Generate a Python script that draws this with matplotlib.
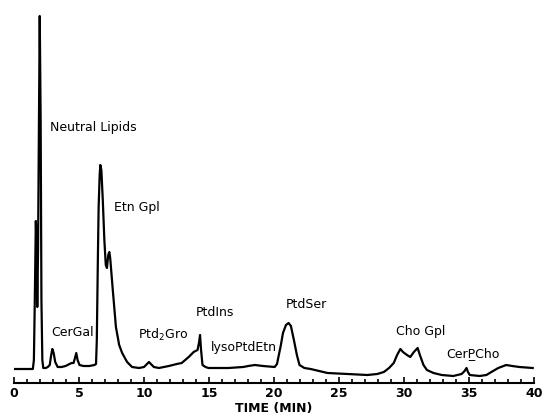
import numpy as np
import matplotlib
matplotlib.use('Agg')
import matplotlib.pyplot as plt
from matplotlib.ticker import MultipleLocator

# detector trace: time (min) and signal (arbitrary units)
time_min = [0.08, 1.45, 1.53, 1.60, 1.68, 1.74, 1.79, 1.85, 1.92, 1.98, 2.05, 2.11, 2.18, 2.25,
            2.44, 2.60, 2.75, 2.86, 2.95, 3.05, 3.17, 3.36, 3.66, 3.97, 4.27, 4.43, 4.58, 4.69,
            4.79, 4.89, 5.04, 5.34, 5.80, 6.18, 6.31, 6.37, 6.45, 6.51, 6.59, 6.64, 6.72, 6.83,
            6.95, 7.06, 7.15, 7.25, 7.33, 7.40, 7.58, 7.84, 8.09, 8.32, 8.70, 9.08, 9.62, 10.00,
            10.23, 10.38, 10.53, 10.76, 11.15, 11.91, 12.52, 12.90, 13.44, 13.82, 14.12, 14.24,
            14.31, 14.39, 14.50, 14.73, 14.96, 16.49, 17.63, 18.02, 18.53, 19.16, 20.05, 20.23,
            20.53, 20.69, 20.92, 21.12, 21.30, 21.53, 21.76, 21.96, 22.34, 22.82, 24.12, 25.65,
            27.18, 27.94, 28.45, 28.85, 29.21, 29.47, 29.72, 29.92, 30.23, 30.48, 30.76, 31.05,
            31.22, 31.50, 31.76, 32.27, 32.90, 33.79, 34.43, 34.66, 34.81, 34.92, 35.06, 35.82,
            36.34, 36.72, 37.25, 37.86, 38.32, 38.88, 39.90]
signal = [7, 7, 16, 76, 155, 126, 69, 126, 256, 360, 256, 76, 16, 8,
          8, 9, 11, 21, 27, 23, 14, 9, 9, 10, 12, 13, 13, 18,
          23, 16, 11, 10, 10, 11, 12, 36, 116, 169, 201, 211, 206, 176,
          136, 111, 108, 121, 124, 118, 89, 49, 31, 23, 14, 9, 8, 9,
          12, 14, 12, 9, 8, 10, 12, 13, 19, 24, 26, 34,
          41, 26, 11, 9, 8, 8, 9, 10, 11, 10, 9, 12,
          31, 43, 51, 53, 50, 36, 21, 11, 8, 7, 3, 2,
          1, 2, 4, 8, 13, 21, 27, 24, 21, 19, 24, 28,
          21, 11, 6, 3, 1, 0, 2, 5, 8, 4, 1, 0,
          1, 4, 8, 11, 10, 9, 8]

peak_names = ['Neutral Lipids', 'Etn Gpl', 'CerGal', 'Ptd$_2$Gro', 'PtdIns',
              'lysoPtdEtn', 'PtdSer', 'Cho Gpl', 'CerP\u0332Cho']
label_pos = [(2.75, 249), (7.71, 168), (2.88, 43), (9.54, 41), (13.97, 63),
             (15.17, 29), (20.92, 71), (29.39, 45), (33.28, 22)]

fig = plt.figure(figsize=(5.45, 4.17), dpi=100)
ax = fig.add_axes([14 / 545, 34 / 417, 520 / 545, 373 / 417])

ax.plot(time_min, signal, color='black', lw=1.6, solid_joinstyle='round')

for name, (x, y) in zip(peak_names, label_pos):
    ax.text(x, y, name, fontsize=9, ha='left', va='center')

ax.set_xlim(0, 40)
ax.set_ylim(-7, 366)
for s in ['top', 'right', 'left']:
    ax.spines[s].set_visible(False)
ax.spines['bottom'].set_linewidth(1.5)
ax.set_yticks([])
ax.xaxis.set_major_locator(MultipleLocator(5))
ax.xaxis.set_minor_locator(MultipleLocator(1))
ax.tick_params(axis='x', which='both', direction='in', width=1.2, pad=3)
ax.tick_params(axis='x', which='major', length=4, labelsize=9)
ax.tick_params(axis='x', which='minor', length=3)
for lbl in ax.get_xticklabels():
    lbl.set_fontweight('bold')
ax.set_xlabel('TIME (MIN)', fontsize=9, fontweight='bold', labelpad=1)

fig.savefig('out.png', dpi=100)
